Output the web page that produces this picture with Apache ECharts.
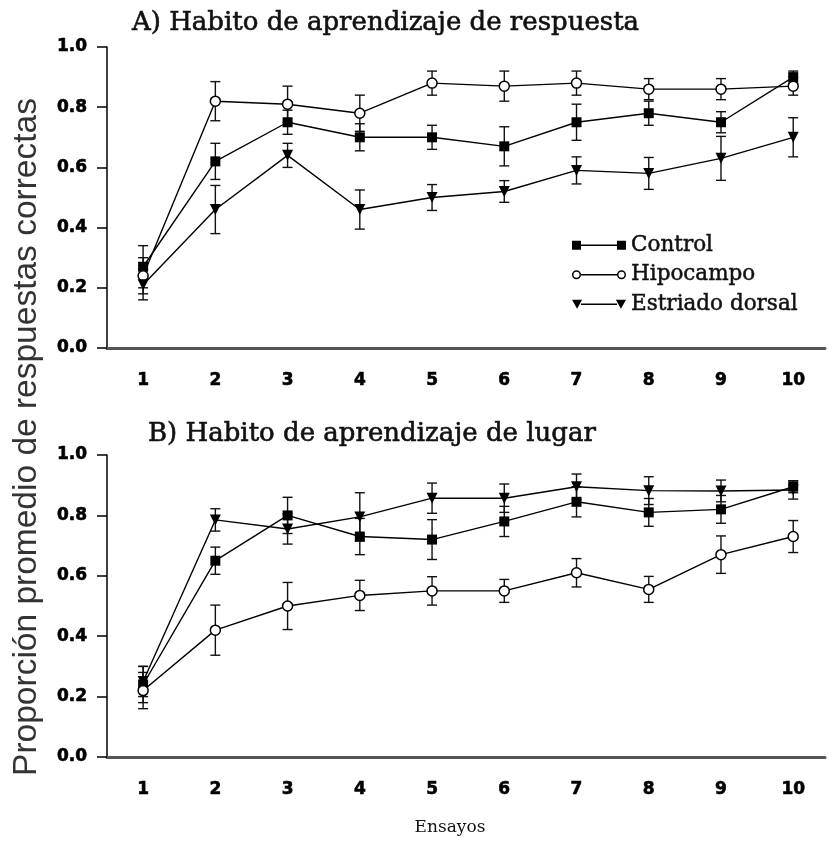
<!DOCTYPE html>
<html><head><meta charset="utf-8">
<script src="https://cdn.jsdelivr.net/npm/echarts@6/dist/echarts.min.js"></script>
<style>html,body{margin:0;padding:0;background:#fff}#c{width:828px;height:841px}</style>
</head><body><div id="c"></div>
<script>
const trials = [1, 2, 3, 4, 5, 6, 7, 8, 9, 10];
const seriesNames = ['Control', 'Hipocampo', 'Estriado dorsal'];
const titleA = 'A) Habito de aprendizaje de respuesta';
const titleB = 'B) Habito de aprendizaje de lugar';
const yTitle = 'Proporción promedio de respuestas correctas';
const xTitle = 'Ensayos';

// Panel A: respuesta
const ctrlA    = [0.27, 0.62, 0.75, 0.70, 0.70, 0.67, 0.75, 0.78, 0.75, 0.90];
const ctrlAErr = [0.07, 0.06, 0.04, 0.045, 0.04, 0.065, 0.06, 0.04, 0.035, 0.02];
const hipA     = [0.24, 0.82, 0.81, 0.78, 0.88, 0.87, 0.88, 0.86, 0.86, 0.87];
const hipAErr  = [0.06, 0.065, 0.06, 0.06, 0.04, 0.05, 0.04, 0.035, 0.035, 0.03];
const estA     = [0.21, 0.46, 0.64, 0.46, 0.50, 0.52, 0.59, 0.58, 0.63, 0.70];
const estAErr  = [0.05, 0.08, 0.04, 0.065, 0.043, 0.036, 0.045, 0.053, 0.073, 0.065];

// Panel B: lugar
const ctrlB    = [0.24, 0.65, 0.80, 0.73, 0.72, 0.78, 0.845, 0.81, 0.82, 0.895];
const ctrlBErr = [0.06, 0.045, 0.06, 0.06, 0.066, 0.05, 0.05, 0.046, 0.046, 0.02];
const hipB     = [0.22, 0.42, 0.50, 0.535, 0.55, 0.55, 0.61, 0.555, 0.67, 0.73];
const hipBErr  = [0.06, 0.083, 0.078, 0.05, 0.047, 0.038, 0.047, 0.043, 0.062, 0.053];
const estB     = [0.25, 0.785, 0.755, 0.795, 0.857, 0.857, 0.895, 0.882, 0.881, 0.884];
const estBErr  = [0.05, 0.037, 0.05, 0.08, 0.05, 0.047, 0.042, 0.046, 0.036, 0.03];

const SERIF = 'DejaVu Serif';
const TICKF = 'DejaVu Sans';

function errData(vals, errs) {
  return trials.map((t, i) => [t, vals[i] - errs[i], vals[i] + errs[i]]);
}
function lineData(vals) {
  return trials.map((t, i) => [t, vals[i]]);
}
function renderErr(params, api) {
  const x = api.value(0);
  const lo = api.coord([x, api.value(1)]);
  const hi = api.coord([x, api.value(2)]);
  const w = 5;
  const st = { stroke: '#111', lineWidth: 1.4 };
  return { type: 'group', children: [
    { type: 'line', shape: { x1: lo[0], y1: lo[1], x2: hi[0], y2: hi[1] }, style: st },
    { type: 'line', shape: { x1: lo[0] - w, y1: lo[1], x2: lo[0] + w, y2: lo[1] }, style: st },
    { type: 'line', shape: { x1: hi[0] - w, y1: hi[1], x2: hi[0] + w, y2: hi[1] }, style: st }
  ]};
}

const styles = {
  'Control': { symbol: 'rect', symbolSize: 10, itemStyle: { color: '#000' } },
  'Hipocampo': { symbol: 'circle', symbolSize: 10, itemStyle: { color: '#fff', borderColor: '#000', borderWidth: 1.5 } },
  'Estriado dorsal': { symbol: 'triangle', symbolSize: 11, symbolRotate: 180, itemStyle: { color: '#000' } }
};

const series = [];
[[ctrlA, ctrlAErr, hipA, hipAErr, estA, estAErr], [ctrlB, ctrlBErr, hipB, hipBErr, estB, estBErr]].forEach((p, gi) => {
  const vals = [p[0], p[2], p[4]];
  const errs = [p[1], p[3], p[5]];
  seriesNames.forEach((nm, si) => {
    series.push({
      type: 'custom', name: nm + ' err', xAxisIndex: gi, yAxisIndex: gi,
      renderItem: renderErr, encode: { x: 0, y: [1, 2] },
      data: errData(vals[si], errs[si]), z: 2, silent: true
    });
  });
  seriesNames.forEach((nm, si) => {
    const s = styles[nm];
    series.push(Object.assign({
      type: 'line', name: nm, xAxisIndex: gi, yAxisIndex: gi,
      data: lineData(vals[si]), z: 3 + si, showAllSymbol: true,
      lineStyle: { color: '#000', width: 1.4 }, animation: false
    }, s));
  });
});

function xAxis(gi) {
  return {
    type: 'value', gridIndex: gi, min: 0.5, max: 10.44, interval: 0.5,
    axisLine: { show: true, onZero: false, lineStyle: { color: '#555', width: 3 } },
    axisTick: { show: false }, splitLine: { show: false },
    axisLabel: {
      formatter: v => (Math.abs(v - Math.round(v)) < 1e-6 && v >= 1 && v <= 10) ? String(Math.round(v)) : '',
      color: '#000', fontFamily: TICKF, fontWeight: 'bold', fontSize: 17, margin: 24,
      textBorderColor: '#000', textBorderWidth: 0.6,
      showMinLabel: true, showMaxLabel: true
    }
  };
}
function yAxis(gi) {
  return {
    type: 'value', gridIndex: gi, min: 0, max: 1, interval: 0.2,
    axisLine: { show: true, lineStyle: { color: '#000', width: 1.5 } },
    axisTick: { show: true, length: 10, lineStyle: { color: '#000', width: 1.5 } },
    splitLine: { show: false },
    axisLabel: { formatter: v => v.toFixed(1), color: '#000', fontFamily: TICKF, fontWeight: 'bold', fontSize: 17, margin: 20,
      textBorderColor: '#000', textBorderWidth: 0.6 }
  };
}

const legendIcons = {
  'Control': 'path://M0,0h8v8h-8z M8,3.3h32v1.4h-32z M40,0h8v8h-8z',
  'Hipocampo': 'path://M0,4 A4,4 0 1,1 8,4 A4,4 0 1,1 0,4 Z M1.3,4 A2.7,2.7 0 1,0 6.7,4 A2.7,2.7 0 1,0 1.3,4 Z M8,3.3h32v1.4h-32z M40,4 A4,4 0 1,1 48,4 A4,4 0 1,1 40,4 Z M41.3,4 A2.7,2.7 0 1,0 46.7,4 A2.7,2.7 0 1,0 41.3,4 Z',
  'Estriado dorsal': 'path://M0,0h9l-4.5,8z M8,3.3h32v1.4h-32z M39,0h9l-4.5,8z'
};

const titleStyle = { fontFamily: SERIF, fontWeight: 'normal', fontSize: 26, color: '#111', textBorderColor: '#111', textBorderWidth: 0.6 };

const option = {
  backgroundColor: '#fff',
  animation: false,
  title: [
    { text: titleA, left: 127, top: 5, textStyle: titleStyle },
    { text: titleB, left: 143, top: 416, textStyle: titleStyle }
  ],
  grid: [
    { left: 107, right: 0, top: 47, height: 301, containLabel: false },
    { left: 107, right: 0, top: 455, height: 302, containLabel: false }
  ],
  xAxis: [xAxis(0), xAxis(1)],
  yAxis: [yAxis(0), yAxis(1)],
  legend: {
    orient: 'vertical', left: 567, top: 229, itemGap: 7, itemWidth: 54, itemHeight: 9,
    selectedMode: false,
    itemStyle: { color: '#000', borderWidth: 0 },
    textStyle: { fontFamily: SERIF, fontSize: 21.5, lineHeight: 22, color: '#111', textBorderColor: '#111', textBorderWidth: 0.5 },
    data: seriesNames.map(n => ({ name: n, icon: legendIcons[n] }))
  },
  graphic: [
    { type: 'text', x: 27, y: 437, rotation: Math.PI / 2, style: { text: yTitle, fontFamily: 'Liberation Sans', fontSize: 33.5, fill: '#333', textAlign: 'center', textVerticalAlign: 'middle' } },
    { type: 'text', x: 450, y: 828, style: { text: xTitle, fontFamily: SERIF, fontSize: 17, fill: '#111', textAlign: 'center', textVerticalAlign: 'middle' } }
  ],
  series: series
};

const chart = echarts.init(document.getElementById('c'), null, { renderer: 'canvas' });
chart.setOption(option);
</script>
</body></html>
